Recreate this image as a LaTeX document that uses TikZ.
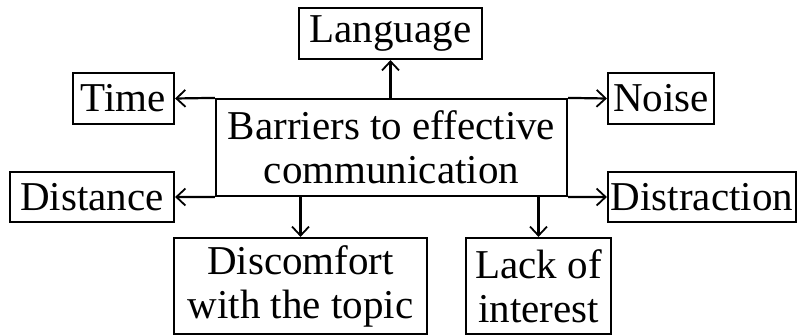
\documentclass[tikz,border=0pt]{standalone}
\usepackage{fontspec}
\setmainfont{Liberation Serif}
\usetikzlibrary{arrows.meta}
\begin{document}
\begin{tikzpicture}[x=1pt,y=-1pt,
  box/.style={draw,line width=2.2pt,inner sep=0pt,align=center,font=\fontsize{41}{44}\selectfont},
  arr/.style={line width=2.2pt,-{Straight Barb[length=9pt,width=17pt,line width=1.8pt]}}]
\fill[white] (0,0) rectangle (800,336);
\useasboundingbox (0,0) rectangle (800,336);
\node[box,minimum width=351pt,minimum height=97pt] (cb) at (391.5,147.5) {Barriers to effective\\communication};
\node[box,minimum width=183pt,minimum height=51pt] (lang) at (390.5,33.5) {Language};
\node[box,minimum width=101pt,minimum height=51pt] (time) at (123.5,98.5) {Time};
\node[box,minimum width=106pt,minimum height=51pt] (noise) at (661,98.5) {Noise};
\node[box,minimum width=164pt,minimum height=50pt] (dist) at (92,197) {Distance};
\node[box,minimum width=188pt,minimum height=50pt] (distr) at (702,197) {Distraction};
\node[box,minimum width=253pt,minimum height=96pt] (disc) at (300.5,286) {Discomfort\\with the topic};
\node[box,minimum width=145pt,minimum height=96pt] (lack) at (538.5,286) {Lack of\\interest};
\draw[arr] (cb.north west) -- (time.east);
\draw[arr] (cb.north east) -- (noise.west);
\draw[arr] (cb.south west) -- (dist.east);
\draw[arr] (cb.south east) -- (distr.west);
\draw[arr] (cb.north -| lang.south) -- (lang.south);
\draw[arr] (cb.south -| disc.north) -- (disc.north);
\draw[arr] (cb.south -| lack.north) -- (lack.north);
\end{tikzpicture}
\end{document}
